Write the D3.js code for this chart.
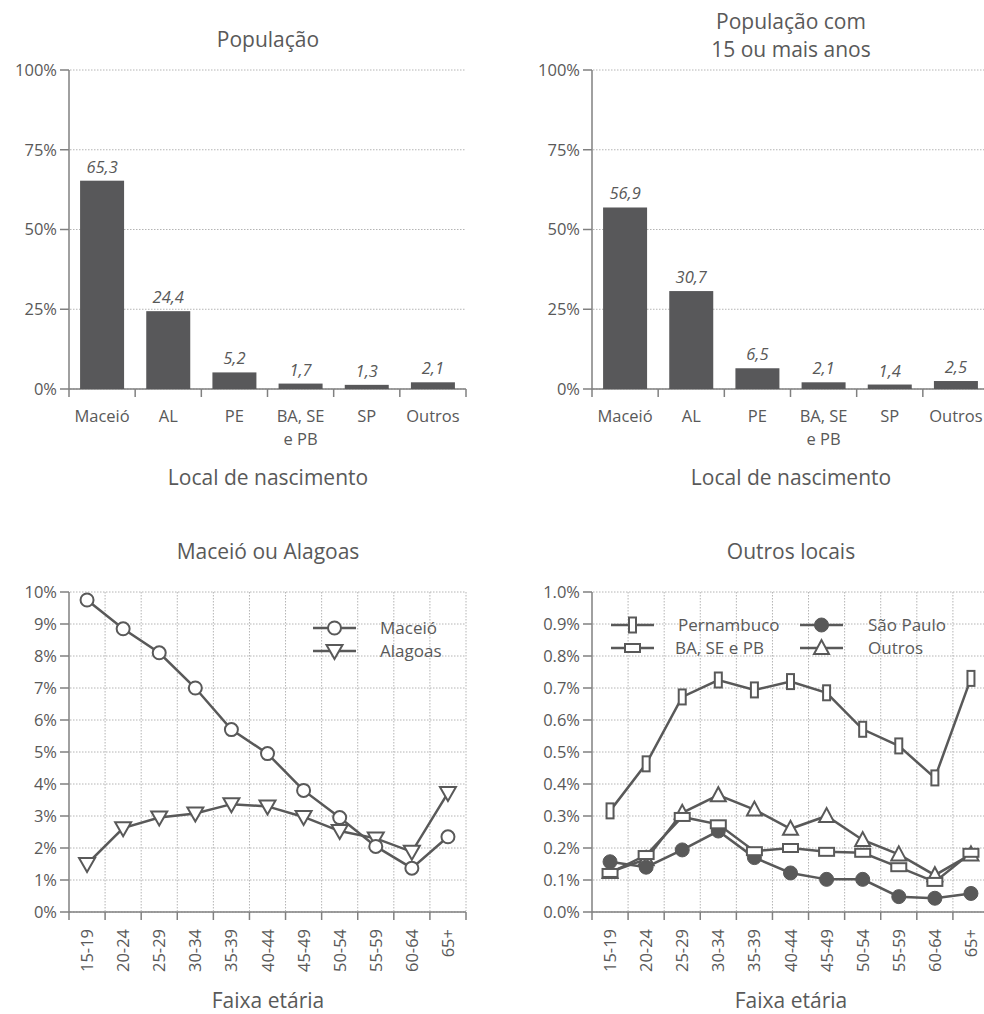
<!DOCTYPE html>
<html><head><meta charset="utf-8">
<script src="https://cdn.jsdelivr.net/npm/d3@7"></script>
<style>
body{margin:0;background:#fff;}
svg text{font-family:"Open Sans",sans-serif;fill:#595959;}
</style></head>
<body><svg id="c" width="984" height="1014"></svg>
<script>
// ---- data ----
const places = ["Maceió","AL","PE","BA, SE|e PB","SP","Outros"];
const popAll = [65.3,24.4,5.2,1.7,1.3,2.1];
const pop15 = [56.9,30.7,6.5,2.1,1.4,2.5];
const barTicks = [0,25,50,75,100];

const ages = ["15-19","20-24","25-29","30-34","35-39","40-44","45-49","50-54","55-59","60-64","65+"];
const maceio  = [9.75,8.85,8.1,7.0,5.7,4.95,3.8,2.95,2.05,1.37,2.35];
const alagoas = [1.5,2.62,2.95,3.08,3.37,3.3,2.97,2.53,2.3,1.88,3.72];
const ticksA = [0,1,2,3,4,5,6,7,8,9,10];

const pernambuco = [0.316,0.463,0.672,0.725,0.694,0.72,0.685,0.571,0.519,0.419,0.73];
const baSePb     = [0.122,0.178,0.297,0.274,0.19,0.2,0.188,0.185,0.14,0.094,0.185];
const saoPaulo   = [0.157,0.14,0.194,0.253,0.17,0.122,0.102,0.102,0.048,0.043,0.058];
const outros     = [0.125,0.165,0.31,0.365,0.32,0.26,0.3,0.225,0.18,0.115,0.18];
const ticksB = [0,0.1,0.2,0.3,0.4,0.5,0.6,0.7,0.8,0.9,1.0];

const svg = d3.select("#c");
const C = "#595959", AX="#808080", GR="#b4b4b4";
const FT = 16.5, FTITLE = 21;

function yAxis(g, y, x0, x1, ticks, fmt){
  ticks.forEach(t=>{
    g.append("line").attr("x1",x0+1).attr("x2",x1).attr("y1",y(t)).attr("y2",y(t))
     .attr("stroke",GR).attr("stroke-width",1).attr("stroke-dasharray","1.5,1.5");
    g.append("line").attr("x1",x0-9).attr("x2",x0).attr("y1",y(t)).attr("y2",y(t))
     .attr("stroke",AX).attr("stroke-width",1.5);
    g.append("text").attr("x",x0-12).attr("y",y(t)).attr("dy","0.35em").attr("text-anchor","end")
     .attr("font-size",FT).text(fmt(t));
  });
  g.append("line").attr("x1",x0).attr("x2",x0).attr("y1",y.range()[0]).attr("y2",y.range()[1])
   .attr("stroke",AX).attr("stroke-width",1.5);
}

function barChart(x0, data, titleLines){
  const g = svg.append("g");
  const x = d3.scaleBand().domain(places).range([x0,x0+397]).paddingInner(0.335).paddingOuter(0.1675);
  const y = d3.scaleLinear().domain([0,100]).range([389,70]);
  yAxis(g,y,x0,Math.min(x0+397,984),barTicks,d=>d+"%");
  g.append("line").attr("x1",x0).attr("x2",x0+397).attr("y1",389).attr("y2",389).attr("stroke",AX).attr("stroke-width",1.5);
  const step = x.step();
  for(let i=0;i<=places.length;i++){
    const xx = x0 + i*step;
    g.append("line").attr("x1",xx).attr("x2",xx).attr("y1",389).attr("y2",397).attr("stroke",AX).attr("stroke-width",1.5);
  }
  g.selectAll("rect.b").data(data).join("rect")
   .attr("x",(d,i)=>x(places[i])).attr("width",x.bandwidth())
   .attr("y",d=>y(d)).attr("height",d=>389-y(d)).attr("fill","#58585a");
  g.selectAll("text.v").data(data).join("text")
   .attr("x",(d,i)=>x(places[i])+x.bandwidth()/2).attr("y",d=>y(d)-8)
   .attr("text-anchor","middle").attr("font-size",FT).attr("font-style","italic")
   .text(d=>String(d.toFixed(1)).replace(".",","));
  places.forEach(p=>{
    const parts=p.split("|");
    parts.forEach((s,j)=>{
      g.append("text").attr("x",x(p)+x.bandwidth()/2).attr("y",422+j*23).attr("text-anchor","middle")
       .attr("font-size",FT).text(s);
    });
  });
  const cx = x0+199;
  titleLines.forEach((s,j)=>{
    g.append("text").attr("x",cx).attr("y",titleLines.length==1?47:29+j*28).attr("text-anchor","middle").attr("font-size",FTITLE).text(s);
  });
  g.append("text").attr("x",cx).attr("y",485).attr("text-anchor","middle").attr("font-size",FTITLE).text("Local de nascimento");
}

function marker(g, type, cx, cy){
  if(type==="circle") g.append("circle").attr("cx",cx).attr("cy",cy).attr("r",6.5).attr("fill","#fff").attr("stroke",C).attr("stroke-width",2);
  else if(type==="dot") g.append("circle").attr("cx",cx).attr("cy",cy).attr("r",7).attr("fill",C).attr("stroke",C).attr("stroke-width",1);
  else if(type==="tdown") g.append("path").attr("d",`M${cx-8},${cy-6}L${cx+8},${cy-6}L${cx},${cy+8}Z`).attr("fill","#fff").attr("stroke",C).attr("stroke-width",2);
  else if(type==="tup") g.append("path").attr("d",`M${cx-7.5},${cy+6}L${cx+7.5},${cy+6}L${cx},${cy-8}Z`).attr("fill","#fff").attr("stroke",C).attr("stroke-width",2);
  else if(type==="rtall") g.append("rect").attr("x",cx-3.5).attr("y",cy-7.5).attr("width",7).attr("height",15).attr("fill","#fff").attr("stroke",C).attr("stroke-width",2);
  else if(type==="rwide") g.append("rect").attr("x",cx-7.5).attr("y",cy-4).attr("width",15).attr("height",8).attr("fill","#fff").attr("stroke",C).attr("stroke-width",2);
}

function lineChart(x0, series, ticks, fmt, title, legend){
  const g = svg.append("g");
  const xb = d3.scaleBand().domain(ages).range([x0,x0+397]);
  const x = d3.scalePoint().domain(ages).range([x0,x0+397]).padding(0.5);
  const y = d3.scaleLinear().domain([ticks[0],ticks[ticks.length-1]]).range([912,592]);
  const xr = Math.min(x0+397,984);
  for(let i=1;i<=ages.length;i++){
    const xx = x0+i*xb.step();
    if(xx<=984) g.append("line").attr("x1",xx).attr("x2",xx).attr("y1",592).attr("y2",911).attr("stroke",GR).attr("stroke-dasharray","1.5,1.5");
  }
  yAxis(g,y,x0,xr,ticks,fmt);
  g.append("line").attr("x1",x0).attr("x2",x0+397).attr("y1",912).attr("y2",912).attr("stroke",AX).attr("stroke-width",1.5);
  for(let i=0;i<=ages.length;i++){
    const xx = x0+i*xb.step();
    g.append("line").attr("x1",xx).attr("x2",xx).attr("y1",912).attr("y2",920).attr("stroke",AX).attr("stroke-width",1.5);
  }
  ages.forEach(a=>{
    g.append("text").attr("transform",`translate(${x(a)+6},929) rotate(-90)`).attr("text-anchor","end")
     .attr("font-size",FT).text(a);
  });
  const line = d3.line().x((d,i)=>x(ages[i])).y(d=>y(d));
  series.forEach(s=>{
    g.append("path").attr("d",line(s.values)).attr("fill","none").attr("stroke",C).attr("stroke-width",2.5);
  });
  series.forEach(s=>{
    s.values.forEach((v,i)=>marker(g,s.marker,x(ages[i]),y(v)));
  });
  legend.forEach(l=>{
    g.append("line").attr("x1",l.x).attr("x2",l.x+43).attr("y1",l.y).attr("y2",l.y).attr("stroke",C).attr("stroke-width",2.5);
    marker(g,l.marker,l.x+21.5,l.y);
    g.append("text").attr("x",l.x+l.tx).attr("y",l.y).attr("dy","0.35em").attr("font-size",17).text(l.name);
  });
  const cx = x0+199;
  g.append("text").attr("x",cx).attr("y",559).attr("text-anchor","middle").attr("font-size",FTITLE).text(title);
  g.append("text").attr("x",cx).attr("y",1008).attr("text-anchor","middle").attr("font-size",FTITLE).text("Faixa etária");
}

barChart(69, popAll, ["População"]);
barChart(592, pop15, ["População com","15 ou mais anos"]);

lineChart(69,[
  {values:alagoas,marker:"tdown"},
  {values:maceio,marker:"circle"}
], ticksA, d=>d+"%", "Maceió ou Alagoas",[
  {name:"Maceió",marker:"circle",x:313,y:628,tx:67},
  {name:"Alagoas",marker:"tdown",x:313,y:651,tx:67}
]);

lineChart(592,[
  {values:pernambuco,marker:"rtall"},
  {values:outros,marker:"tup"},
  {values:saoPaulo,marker:"dot"},
  {values:baSePb,marker:"rwide"}
], ticksB, d=>d.toFixed(1)+"%", "Outros locais",[
  {name:"Pernambuco",marker:"rtall",x:611,y:625,tx:67},
  {name:"BA, SE e PB",marker:"rwide",x:611,y:648,tx:64},
  {name:"São Paulo",marker:"dot",x:800,y:625,tx:68},
  {name:"Outros",marker:"tup",x:800,y:648,tx:68}
]);
</script></body></html>
